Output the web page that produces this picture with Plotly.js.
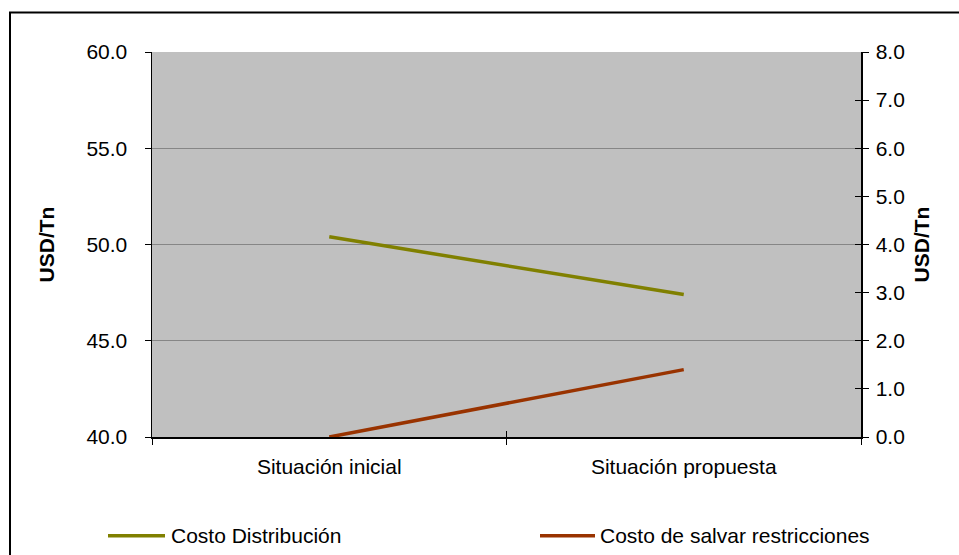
<!DOCTYPE html>
<html>
<head>
<meta charset="utf-8">
<script src="https://cdn.plot.ly/plotly-3.0.1.min.js"></script>
<style>
  html, body { margin: 0; padding: 0; background: #ffffff; }
  #chart { width: 959px; height: 555px; }
</style>
</head>
<body>
<div id="chart"></div>
<script>
// Scenarios compared
const categories = ['Situación inicial', 'Situación propuesta'];
// Distribution cost, USD/Tn (left axis)
const costoDistribucion = [50.4, 47.4];
// Cost of removing restrictions, USD/Tn (right axis)
const costoRestricciones = [0.0, 1.4];
const seriesNames = ['Costo Distribución', 'Costo de salvar restricciones'];
const seriesColors = ['#808000', '#993300'];

const FONT = 'Liberation Sans, Arial, sans-serif';

// Plot-area geometry in pixels, used to place the frame and legend in paper units
const W = 959, H = 555;
const L = 152, R = 861, T = 51.5, B = 437;
const px = x => (x - L) / (R - L);
const py = y => (B - y) / (B - T);

const traces = [
  {
    x: categories, y: costoDistribucion, name: seriesNames[0],
    type: 'scatter', mode: 'lines', yaxis: 'y',
    line: { color: seriesColors[0], width: 3.5 }, showlegend: false
  },
  {
    x: categories, y: costoRestricciones, name: seriesNames[1],
    type: 'scatter', mode: 'lines', yaxis: 'y2',
    line: { color: seriesColors[1], width: 3.5 }, showlegend: false
  }
];

// Legend drawn as line samples plus labels below the plot
const legendY = 536;
const legendItems = [
  { x0: 108, x1: 165, tx: 169 },
  { x0: 540, x1: 595, tx: 598 }
];
const shapes = [
  // outer chart frame
  {
    type: 'rect', xref: 'paper', yref: 'paper',
    x0: px(10), x1: px(W + 20), y0: py(H + 20), y1: py(12),
    line: { color: '#000000', width: 2 }, fillcolor: 'rgba(0,0,0,0)'
  }
];
const annotations = [];
legendItems.forEach((it, i) => {
  shapes.push({
    type: 'line', xref: 'paper', yref: 'paper',
    x0: px(it.x0), x1: px(it.x1), y0: py(legendY), y1: py(legendY),
    line: { color: seriesColors[i], width: 3.5 }
  });
  annotations.push({
    xref: 'paper', yref: 'paper', x: px(it.tx), y: py(legendY),
    xanchor: 'left', yanchor: 'middle', showarrow: false,
    text: seriesNames[i], font: { family: FONT, size: 21, color: '#000000' }
  });
});

const tickFont = { family: FONT, size: 21, color: '#000000' };
const titleFont = { family: FONT, size: 21, color: '#000000', weight: 'bold' };

const layout = {
  width: W, height: H,
  margin: { l: L, r: W - R, t: T, b: H - B, pad: 0 },
  paper_bgcolor: '#ffffff',
  plot_bgcolor: '#c0c0c0',
  showlegend: false,
  xaxis: {
    type: 'category', range: [-0.5, 1.5],
    tickson: 'boundaries', ticks: 'outside', ticklen: 6, tickcolor: '#000000', tickwidth: 1,
    ticklabelstandoff: 10,
    showline: true, linecolor: '#000000', linewidth: 1.5,
    showgrid: false, zeroline: false, tickfont: tickFont, automargin: false
  },
  xaxis2: {
    type: 'category', range: [-0.5, 1.5], overlaying: 'x', anchor: 'y',
    tickson: 'boundaries', ticks: 'inside', ticklen: 6, tickcolor: '#000000', tickwidth: 1,
    showticklabels: false, showline: false, showgrid: false, zeroline: false,
    tickvals: categories
  },
  yaxis: {
    range: [40, 60], dtick: 5, tickformat: '.1f',
    ticks: 'outside', ticklen: 6, tickcolor: '#000000', tickwidth: 1,
    ticklabelstandoff: 13,
    showline: true, linecolor: '#000000', linewidth: 1.5,
    showgrid: true, gridcolor: '#868686', gridwidth: 1, zeroline: false,
    tickfont: tickFont, automargin: false,
    title: { text: 'USD/Tn', font: titleFont, standoff: 26 }
  },
  yaxis2: {
    range: [0, 8], dtick: 1, tickformat: '.1f', overlaying: 'y', side: 'right', anchor: 'x',
    ticks: 'outside', ticklen: 6, tickcolor: '#000000', tickwidth: 1,
    ticklabelstandoff: 3,
    showline: true, linecolor: '#000000', linewidth: 1.5,
    showgrid: false, zeroline: false, tickfont: tickFont, automargin: false,
    title: { text: 'USD/Tn', font: titleFont, standoff: 10 }
  },
  yaxis3: {
    range: [0, 8], dtick: 1, overlaying: 'y', side: 'right', anchor: 'x',
    ticks: 'inside', ticklen: 6, tickcolor: '#000000', tickwidth: 1,
    showticklabels: false, showline: false, showgrid: false, zeroline: false
  },
  shapes: shapes,
  annotations: annotations
};

// Invisible helper traces activate the overlay axes that carry the crossing tick marks
traces.push({ x: categories, y: [null, null], xaxis: 'x2', yaxis: 'y', type: 'scatter', mode: 'lines', showlegend: false, hoverinfo: 'skip' });
traces.push({ x: categories, y: [null, null], xaxis: 'x', yaxis: 'y3', type: 'scatter', mode: 'lines', showlegend: false, hoverinfo: 'skip' });

Plotly.newPlot('chart', traces, layout, { staticPlot: true, displayModeBar: false });
</script>
</body>
</html>
